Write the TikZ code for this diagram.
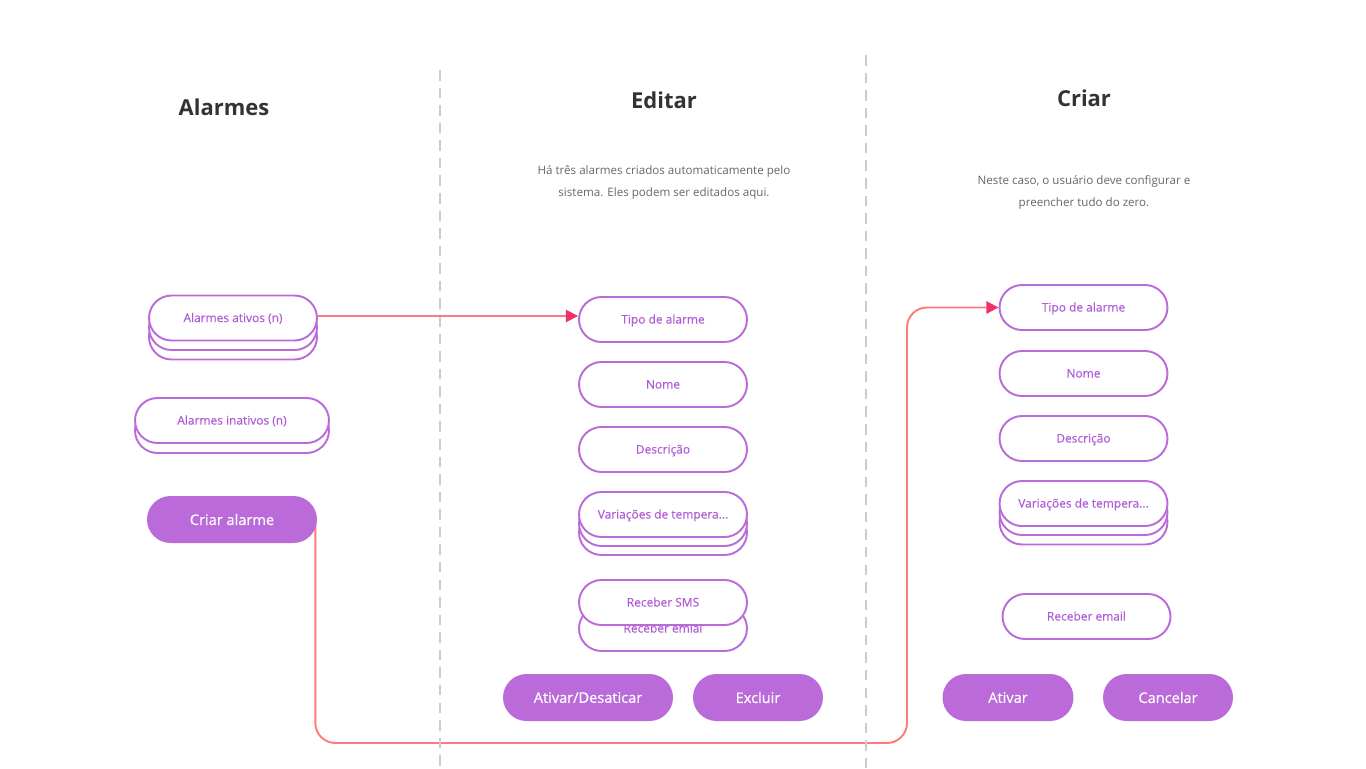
\documentclass[tikz,border=0pt]{standalone}
\usepackage{fontspec}
\setmainfont{Open Sans}
\newfontfamily\pillfont[FakeBold=0.25]{Open Sans}
\newfontfamily\btnfont[FakeBold=0.5]{Open Sans}
\usepackage{tikz}
\usepackage{xcolor}
\usetikzlibrary{arrows.meta,backgrounds}
\definecolor{pillpurple}{HTML}{BA6BD9}
\definecolor{textpurple}{HTML}{B05CD6}
\definecolor{linkred}{HTML}{FF7B7B}
\definecolor{tipred}{HTML}{F0306A}
\definecolor{headgray}{HTML}{333333}
\definecolor{descgray}{HTML}{666666}
\definecolor{sepgray}{HTML}{CCCCCC}
\tikzset{
    pill/.style = {draw=pillpurple, fill=white, line width=1.1pt, rectangle, rounded corners=0.45cm,
        minimum width=3.36cm, minimum height=0.9cm, text=textpurple, text height=5pt, text depth=0.4pt,
        font=\pillfont\fontsize{6.8}{8}\selectfont},
    action-btn/.style = {fill=pillpurple, rectangle, rounded corners=0.47cm, minimum width=3.4cm,
        minimum height=0.94cm, text=white, font=\btnfont\fontsize{8.3}{10}\selectfont},
    col-title/.style = {text=headgray, font=\fontsize{12.5}{15}\selectfont\bfseries},
    col-desc/.style = {text=descgray, align=center, font=\fontsize{6.6}{12.5}\selectfont},
    separator/.style = {draw=sepgray, line width=1.1pt, dash pattern=on 6pt off 4pt},
    link/.style = {draw=linkred, line width=1.1pt, -{Triangle[length=7pt, width=7pt, color=tipred]}},
}

\begin{document}
\begin{tikzpicture}[x=0.02cm, y=-0.02cm]
\useasboundingbox (0,0) rectangle (1366,768);

% separators
\coordinate (sepA-top) at (440,70);
\coordinate (sepA-bot) at (440,768);
\coordinate (sepB-top) at (866,55);
\coordinate (sepB-bot) at (866,768);
\draw[separator] (sepA-top) -- (sepA-bot);
\draw[separator] (sepB-top) -- (sepB-bot);

% column titles
\node[col-title] (alarmes-title) at (224,107) {Alarmes};
\node[col-title] (editar-title) at (664,100) {Editar};
\node[col-title] (criar-title) at (1084,98) {Criar};

\node[col-desc] (editar-desc) at (664,182) {Há três alarmes criados automaticamente pelo\\sistema. Eles podem ser editados aqui.};
\node[col-desc] (criar-desc) at (1084,192) {Neste caso, o usuário deve configurar e\\preencher tudo do zero.};

% Alarmes
\node[pill] (ativos-3) at (233,337) {};
\node[pill] (ativos-2) at (233,327.5) {};
\node[pill] (ativos) at (233,318) {Alarmes ativos (n)};
\node[pill, minimum width=3.88cm] (inativos-2) at (232,430.5) {};
\node[pill, minimum width=3.88cm] (inativos) at (232,420.5) {Alarmes inativos (n)};
\node[action-btn] (criar-btn) at (232,519.5) {Criar alarme};

% Editar
\node[pill] (tipo-ed) at (663,319.5) {Tipo de alarme};
\node[pill] (nome-ed) at (663,384.5) {Nome};
\node[pill] (desc-ed) at (663,449.5) {Descrição};
\node[pill] (var-ed-3) at (663,532.5) {};
\node[pill] (var-ed-2) at (663,523.5) {};
\node[pill] (var-ed) at (663,514.5) {Variações de tempera...};
\node[pill] (email-ed) at (663,628.5) {Receber emial};
\node[pill] (sms-ed) at (663,602.5) {Receber SMS};
\node[action-btn] (ativar-ed) at (588,697.5) {Ativar/Desaticar};
\node[action-btn, minimum width=2.6cm] (excluir-ed) at (758,697.5) {Excluir};

% Criar
\node[pill] (tipo-cr) at (1083.5,307.5) {Tipo de alarme};
\node[pill] (nome-cr) at (1083.5,373.5) {Nome};
\node[pill] (desc-cr) at (1083.5,438.5) {Descrição};
\node[pill] (var-cr-3) at (1083.5,522) {};
\node[pill] (var-cr-2) at (1083.5,512.5) {};
\node[pill] (var-cr) at (1083.5,503.5) {Variações de tempera...};
\node[pill] (email-cr) at (1086.5,616.5) {Receber email};
\node[action-btn, minimum width=2.62cm] (ativar-cr) at (1008,697.5) {Ativar};
\node[action-btn, minimum width=2.6cm] (cancelar-cr) at (1168,697.5) {Cancelar};

% connectors
\coordinate (route-in) at (579,316);
\draw[link] (ativos.east |- route-in) -- (tipo-ed.west |- route-in);
\coordinate (route-low) at (907,743);
\begin{scope}[on background layer]
\draw[link, rounded corners=0.4cm] ([xshift=-0.04cm]criar-btn.east) |- (route-low) |- (tipo-cr.west);
\end{scope}
\end{tikzpicture}
\end{document}
